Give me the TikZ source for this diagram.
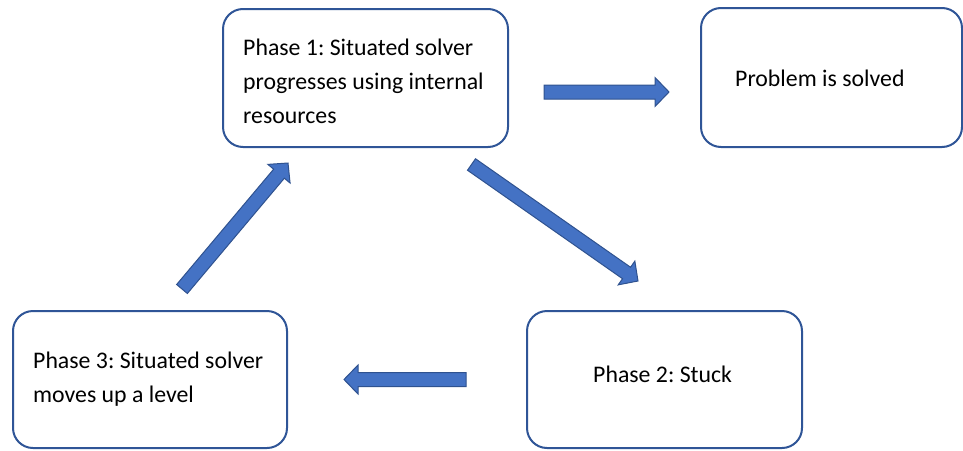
\documentclass[tikz,border=0pt]{standalone}
\usepackage{fontspec}
\setmainfont{Carlito}
\usetikzlibrary{calc}
\frenchspacing

\definecolor{arrowfill}{HTML}{4472C4}
\definecolor{arrowedge}{HTML}{2F528F}
\definecolor{boxedge}{HTML}{2F5597}

% block arrow from #1 to #2 (named coordinates)
\newcommand\blockarrow[2]{%
  \path ($(#2)!14pt!(#1)$) coordinate (hb);
  \draw[blockarr]
    ($(#1)!7pt!90:(#2)$) -- ($(hb)!7pt!-90:(#1)$) -- ($(hb)!14.5pt!-90:(#1)$)
    -- (#2) -- ($(hb)!14.5pt!90:(#1)$) -- ($(hb)!7pt!90:(#1)$)
    -- ($(#1)!7pt!-90:(#2)$) -- cycle;}

\begin{document}
\begin{tikzpicture}[x=1pt,y=-1pt,
  phasebox/.style={draw=boxedge, line width=2pt, rounded corners=20pt,
    fill=white, inner sep=0pt},
  label/.style={inner sep=0pt, anchor=base west, align=left,
    font=\fontsize{23.8}{34}\selectfont},
  blockarr/.style={fill=arrowfill, draw=arrowedge, line width=1pt, line join=miter}]
  \useasboundingbox (0,0) rectangle (963,450);

  % phase boxes
  \node[phasebox, minimum width=285, minimum height=138] (p1) at (365.5,78) {};
  \node[phasebox, minimum width=261, minimum height=139] (solved) at (831.5,77.5) {};
  \node[phasebox, minimum width=275, minimum height=137] (p2) at (664.5,379.5) {};
  \node[phasebox, minimum width=274, minimum height=137] (p3) at (150,379.5) {};

  % box texts (base anchor sits on the last line)
  \node[label] (t1) at (243,123) {Phase 1: Situated solver\\progresses using internal\\resources};
  \node[label] (ts) at (735,86) {Problem is solved};
  \node[label] (t2) at (593,382) {Phase 2: Stuck};
  \node[label] (t3) at (33,402) {Phase 3: Situated solver\\moves up a level};

  % arrow end points
  \coordinate (a1s) at (544,92);    \coordinate (a1e) at (669,92);
  \coordinate (a2s) at (471.5,164.5); \coordinate (a2e) at (638,281);
  \coordinate (a3s) at (466,379.5); \coordinate (a3e) at (344,379.5);
  \coordinate (a4s) at (182,289);   \coordinate (a4e) at (288,163);

  \blockarrow{a1s}{a1e}
  \blockarrow{a2s}{a2e}
  \blockarrow{a3s}{a3e}
  \blockarrow{a4s}{a4e}
\end{tikzpicture}
\end{document}
